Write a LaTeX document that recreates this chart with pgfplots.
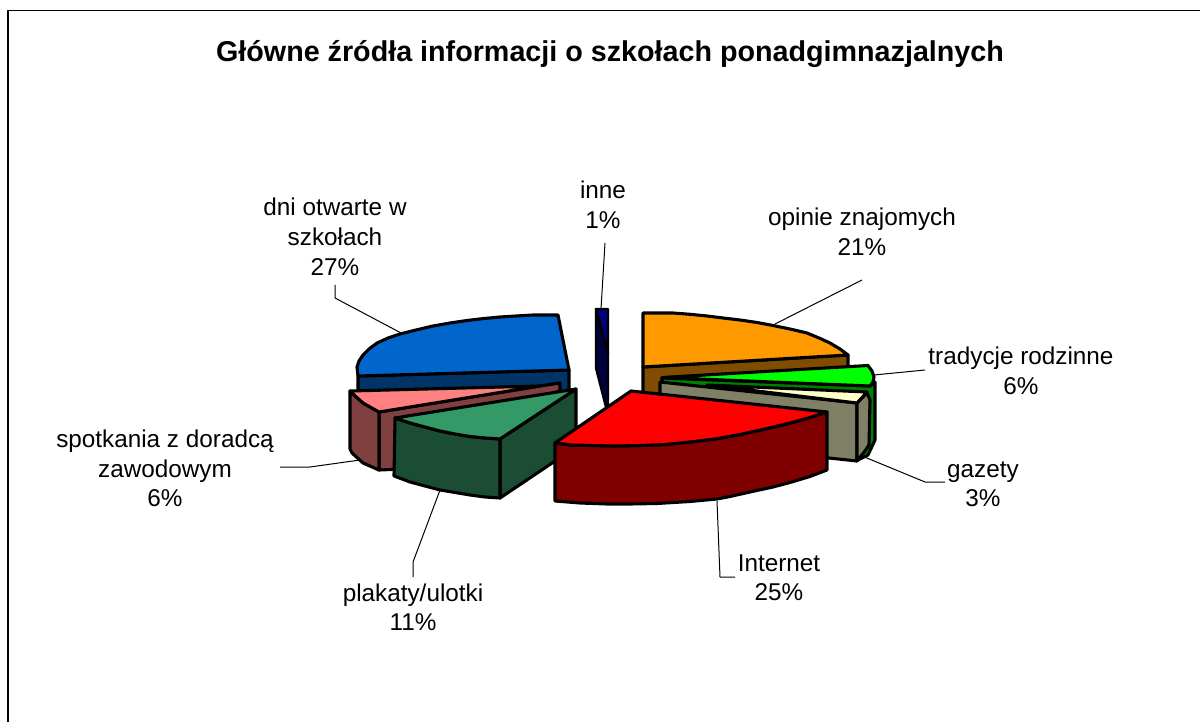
\documentclass[border=0pt]{standalone}
\usepackage{fontspec}
\setmainfont{Liberation Sans}
\usepackage{pgfplots}
\pgfplotsset{compat=1.18}
\definecolor{cBlue}{HTML}{0066CC}\definecolor{cBlueD}{HTML}{003366}
\definecolor{cOrange}{HTML}{FF9900}\definecolor{cOrangeD}{HTML}{804C00}
\definecolor{cLime}{HTML}{00FF00}\definecolor{cLimeD}{HTML}{008000}
\definecolor{cCream}{HTML}{FFFFCC}\definecolor{cCreamD}{HTML}{808066}
\definecolor{cRed}{HTML}{FF0000}\definecolor{cRedD}{HTML}{800000}
\definecolor{cSea}{HTML}{339966}\definecolor{cSeaD}{HTML}{1A4D33}
\definecolor{cPink}{HTML}{FF8080}\definecolor{cPinkD}{HTML}{804040}
\definecolor{cNavy}{HTML}{000080}\definecolor{cNavyD}{HTML}{000040}
\newcommand\lab[3]{\node[anchor=base,inner sep=0pt,font=\fontsize{24.3}{29}\selectfont] at (axis cs:#1,#2) {#3};}
\begin{document}
\begin{tikzpicture}
\begin{axis}[
  scale only axis, width=1200pt, height=722pt,
  xmin=0, xmax=1200, ymin=0, ymax=722, y dir=reverse,
  hide axis, clip=true,
  every axis plot/.append style={line join=round, no markers},
  pie/.style={draw=black, line width=3.1pt, fill=#1},
  lead/.style={draw=black, line width=1pt},
]
% page
\addplot[draw=none, fill=white] coordinates {(0,0) (1200,0) (1200,722) (0,722)} -- cycle;
% frame
\addplot[draw=black, line width=1.6pt] coordinates {(8,722) (8,10.5) (1200,10.5)};
% leaders
\addplot[lead] coordinates {(605,243) (601,309)};
\addplot[lead] coordinates {(862,280) (775,324)};
\addplot[lead] coordinates {(874,375) (925,370)};
\addplot[lead] coordinates {(862,456) (925,482) (945,482)};
\addplot[lead] coordinates {(717,501) (720,577) (735,577)};
\addplot[lead] coordinates {(440,490) (413,562) (413,577)};
\addplot[lead] coordinates {(360,460) (310,467) (280,467)};
\addplot[lead] coordinates {(403,334) (335,298) (335,285)};
% blue: dni otwarte
\addplot[pie=cBlueD] coordinates {(358,376) (569,370) (569,395) (358,395)} -- cycle;
\addplot[pie=cBlue] coordinates {(358,376) (357,367) (359,361) (363,355) (369,349) (377,343) (388,338) (400,334) (416,330) (433,326) (450,323) (467,320.5) (484,318.5) (500,317) (516,316) (533,315) (558,315) (569,370)} -- cycle;
% navy: inne
\addplot[pie=cNavyD, line width=2.4pt] coordinates {(596,309) (608,353) (608,405) (606,407) (596,368)} -- cycle;
\addplot[pie=cNavy, line width=2.4pt] coordinates {(596,309) (608,309) (608,353)} -- cycle;
% orange
\addplot[pie=cOrangeD] coordinates {(643,367) (848,355) (848,375) (643,398)} -- cycle;
\addplot[pie=cOrange] coordinates {(643,313) (658,313) (673,313) (690,314.3) (707,316) (723,318) (740,320) (757,322.5) (773,325.5) (790,329) (807,333) (819,338) (830,343) (840,349) (848,355) (643,367)} -- cycle;
% lime
\addplot[pie=cLimeD] coordinates {(662,378) (870,386) (875,382) (875,440) (868,455) (858,460) (858,400) (662,386)} -- cycle;
\addplot[pie=cLime] coordinates {(662,377.5) (868,365.5) (872,371) (874,377) (873,382) (870,386)} -- cycle;
% cream
\addplot[pie=cCreamD] coordinates {(660,382) (857,403) (857,461) (660,440)} -- cycle;
\addplot[pie=cCreamD] coordinates {(857,403) (867,393) (870,400) (869,445) (865,451) (857,461)} -- cycle;
\addplot[pie=cCream] coordinates {(707,385) (867,392) (857,403)} -- cycle;
% pink
\addplot[pie=cPinkD] coordinates {(379,412) (540,386) (560,383) (560,391) (500,410) (500,465) (379,470)} -- cycle;
\addplot[pie=cPinkD] coordinates {(350,391) (352,393) (363,403) (379,412) (379,470) (363,463) (352,453) (350,449)} -- cycle;
\addplot[pie=cPink] coordinates {(350,391) (540,386) (379,412) (363,403) (352,393)} -- cycle;
% sea green
\addplot[pie=cSeaD] coordinates {(500,439) (576,389) (576,447) (500,498)} -- cycle;
\addplot[pie=cSeaD] coordinates {(395,418) (410,423) (425,427) (440,431) (455,434) (470,436.5) (485,438) (500,439) (500,498) (485,497) (470,495) (455,492.5) (440,490) (425,486) (410,482) (394,476)} -- cycle;
\addplot[pie=cSea] coordinates {(395,418) (576,389) (500,439) (485,438) (470,436.5) (455,434) (440,431) (425,427) (410,423)} -- cycle;
% red
\addplot[pie=cRedD] coordinates {(555,443) (572,445) (590,445.5) (615,446) (640,445.5) (665,444.5) (690,442) (715,439) (740,434.5) (765,429) (790,423) (810,417.5) (827,412) (827,470) (810,476.5) (790,482.5) (773,487) (750,492) (730,496.5) (717,499) (690,501.5) (657,503.5) (630,504) (607,504) (580,503) (555,501)} -- cycle;
\addplot[pie=cRed] coordinates {(631,391) (827,412) (810,417.5) (790,423) (765,429) (740,434.5) (715,439) (690,442) (665,444.5) (640,445.5) (615,446) (590,445.5) (572,445) (555,443)} -- cycle;
% texts
\node[anchor=base,inner sep=0pt,font=\fontsize{28.7}{34}\selectfont\bfseries] at (axis cs:610,62) {Główne źródła informacji o szkołach ponadgimnazjalnych};
\lab{603}{199}{inne}\lab{603}{229}{1\%}
\lab{862}{226}{opinie znajomych}\lab{862}{256}{21\%}
\lab{1021}{364}{tradycje rodzinne}\lab{1021}{394}{6\%}
\lab{983}{477}{gazety}\lab{983}{506}{3\%}
\lab{779}{571}{Internet}\lab{779}{600}{25\%}
\lab{413}{601}{plakaty/ulotki}\lab{413}{630}{11\%}
\lab{165}{447}{spotkania z doradcą}\lab{165}{477}{zawodowym}\lab{165}{506}{6\%}
\lab{335}{216}{dni otwarte w}\lab{335}{246}{szkołach}\lab{335}{276}{27\%}
\end{axis}
\end{tikzpicture}
\end{document}
